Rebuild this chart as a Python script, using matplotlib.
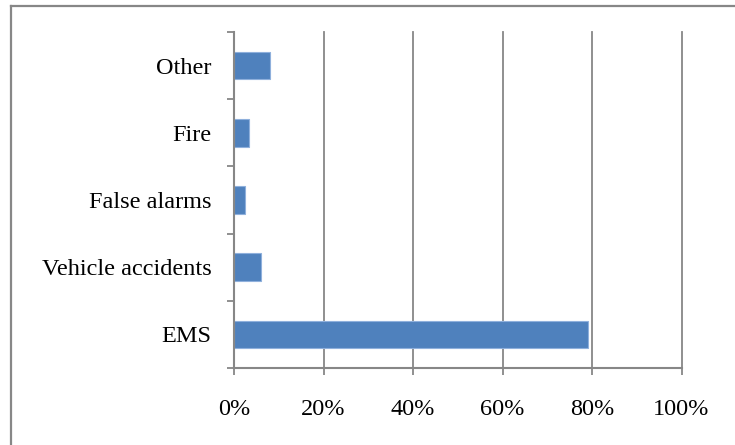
import numpy as np
import matplotlib
matplotlib.use('Agg')
import matplotlib.pyplot as plt
from matplotlib.lines import Line2D
from matplotlib.ticker import FixedLocator

# categories bottom -> top, share of calls in percent
categories = ['EMS', 'Vehicle accidents', 'False alarms', 'Fire', 'Other']
shares = [79.1, 6.1, 2.5, 3.4, 8.1]
xticks = [0, 20, 40, 60, 80, 100]
xticklabels = ['0%', '20%', '40%', '60%', '80%', '100%']

plt.rcParams['font.family'] = ['Liberation Serif', 'DejaVu Serif']

grey = '#878787'
fig = plt.figure(figsize=(7.35, 4.45), dpi=100)
ax = fig.add_axes([234/735, 1-368/445, (681.5-234)/735, (368-32)/445])

y = np.arange(len(categories))
ax.barh(y, shares, height=0.41, color='#4f81bd', edgecolor='#8fb0dc', linewidth=0.8, zorder=3)

ax.set_xlim(0, 100)
ax.set_ylim(-0.5, len(categories)-0.5)
ax.set_xticks(xticks)
ax.set_xticklabels(xticklabels, fontsize=17.5)
ax.set_yticks(y)
ax.set_yticklabels(categories, fontsize=17.5)
# ticks at category boundaries, labels centred
ax.yaxis.set_minor_locator(FixedLocator(np.arange(-0.5, len(categories), 1)))
ax.tick_params(axis='y', which='major', length=0, pad=16)
ax.tick_params(axis='y', which='minor', length=5, width=1.3, color=grey, direction='out')
ax.tick_params(axis='x', length=5, width=1.3, color=grey, direction='out', pad=17)

ax.grid(axis='x', color=grey, linewidth=1.3, zorder=0)
for gl in ax.get_xgridlines():
    gl.set_clip_on(False)
for s in ['top', 'right']:
    ax.spines[s].set_visible(False)
for s in ['left', 'bottom']:
    ax.spines[s].set_color(grey)
    ax.spines[s].set_linewidth(1.5)
    ax.spines[s].set_zorder(4)

# chart border (left and top visible)
bx, by = 11/735, 1-6/445
fig.add_artist(Line2D([bx, bx], [by, -0.1], transform=fig.transFigure, color=grey, linewidth=1.6))
fig.add_artist(Line2D([bx, 1.1], [by, by], transform=fig.transFigure, color=grey, linewidth=1.6))

fig.savefig('out.png', dpi=100)
